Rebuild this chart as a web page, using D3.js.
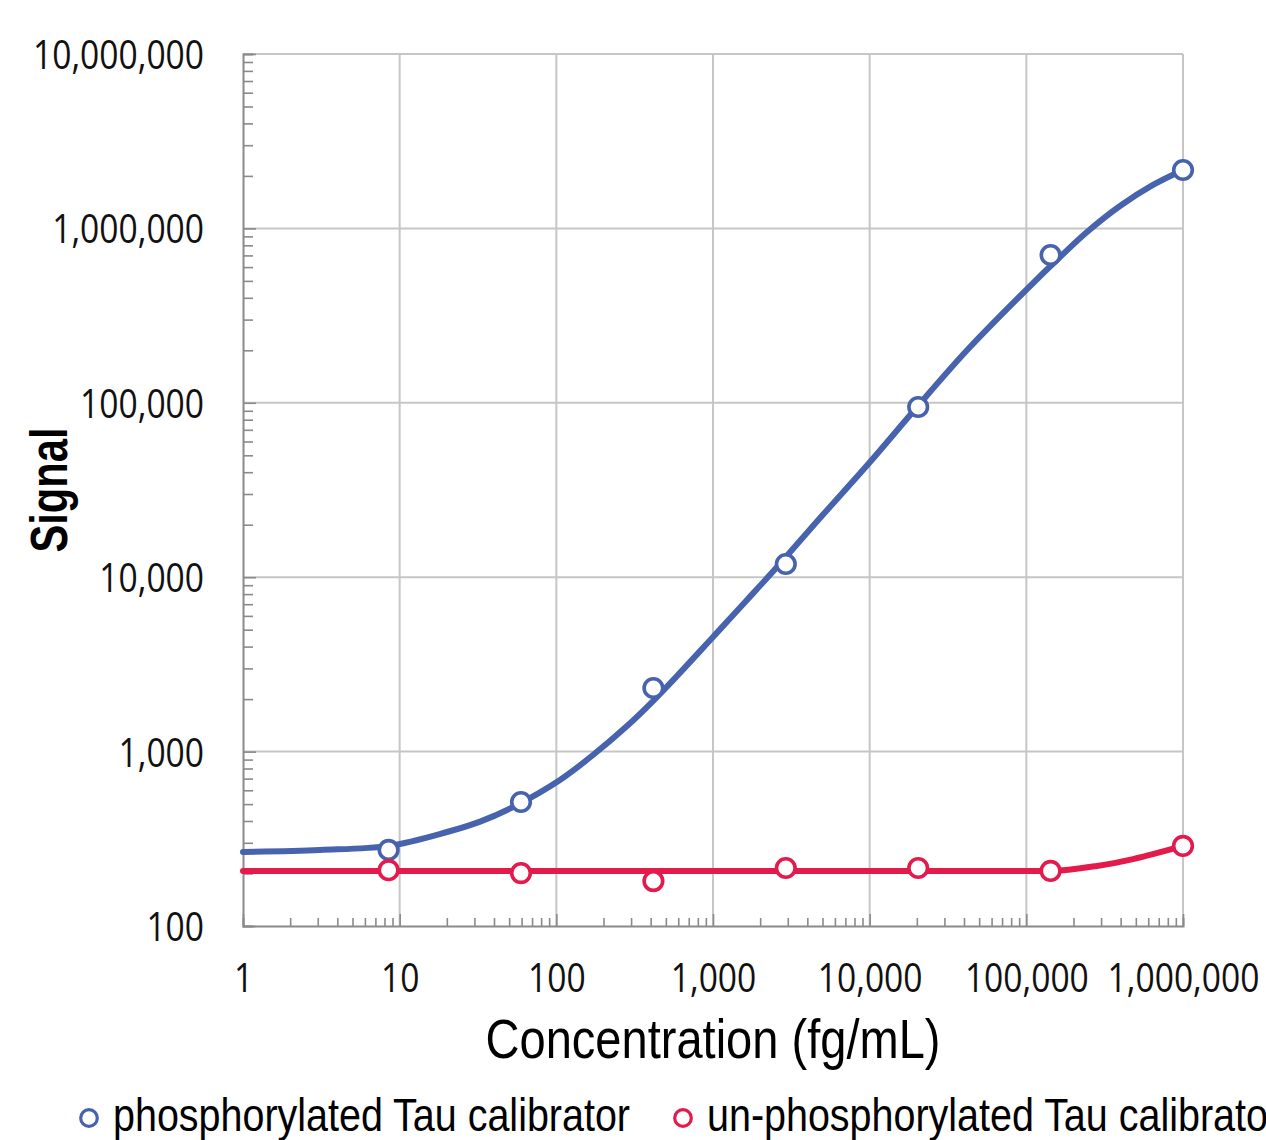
<!DOCTYPE html>
<html>
<head>
<meta charset="utf-8">
<script src="https://cdn.jsdelivr.net/npm/d3@7"></script>
<style>
  html, body { margin: 0; padding: 0; background: #fff; overflow: hidden; }
  svg { display: block; }
  .tick-font { font-family: "Open Sans", "Noto Sans", sans-serif; }
  .narrow { font-family: "Liberation Sans", Arial, sans-serif; }
</style>
</head>
<body>
<svg id="chart" width="1266" height="1140"></svg>
<script>
// ---- data ----
const concentrations = [8.5, 59.5, 416.5, 2915, 20408, 142857, 1000000];
const pTauSignal     = [273, 514, 2316, 11900, 94600, 704000, 2162000];
const unpTauSignal   = [209, 201, 181, 215, 215, 207, 288];

// fitted curves
const pTauFitX = [1, 3.1, 8.55, 20.05, 32.6, 52.9, 105.5, 171.4, 282.5, 414, 589, 1000, 1648, 2562, 4820, 10050, 20060, 41800, 101000, 164000, 243900, 396000, 643000, 1000000];
const pTauFitY = [266, 273, 288, 346, 397, 481, 688, 956, 1402, 1950, 2713, 4541, 7403, 11440, 21840, 45770, 94600, 200000, 449200, 685500, 953700, 1344000, 1774000, 2162000];
const unpFitX  = [1, 141600, 282500, 479700, 1000000];
const unpFitY  = [207, 207, 221, 242, 288];

const xTickValues = [1, 10, 100, 1000, 10000, 100000, 1000000];
const yTickValues = [100, 1000, 10000, 100000, 1000000, 10000000];

const seriesNames = ["phosphorylated Tau calibrator", "un-phosphorylated Tau calibrator"];
const seriesColors = ["#4763ad", "#e31a4b"];

// ---- layout ----
const svg = d3.select("#chart");
const plotL = 243, plotR = 1183, plotT = 54, plotB = 926;

const x = d3.scaleLog().domain([1, 1000000]).range([plotL, plotR]);
const y = d3.scaleLog().domain([100, 10000000]).range([plotB, plotT]);

const gridColor = "#c6c6c6";
const axisColor = "#8a8a8a";
const fmt = d3.format(",");

// condense text horizontally so that a reference string reaches a target width
function condense(sel, factor) {
  sel.each(function() {
    const w = this.getComputedTextLength();
    d3.select(this).attr("textLength", w * factor).attr("lengthAdjust", "spacingAndGlyphs");
  });
}

// gridlines
const grid = svg.append("g");
grid.selectAll("line.vx").data(xTickValues.slice(1)).enter().append("line")
  .attr("x1", d => x(d)).attr("x2", d => x(d))
  .attr("y1", plotT).attr("y2", plotB)
  .attr("stroke", gridColor).attr("stroke-width", 2);
grid.selectAll("line.hy").data(yTickValues.slice(1)).enter().append("line")
  .attr("x1", plotL).attr("x2", plotR)
  .attr("y1", d => y(d)).attr("y2", d => y(d))
  .attr("stroke", gridColor).attr("stroke-width", 2);

// x axis (ticks point inward/up)
const xMinor = x.ticks().filter(d => !xTickValues.includes(d));
const xAxisG = svg.append("g").attr("transform", `translate(0,${plotB})`);
xAxisG.call(d3.axisBottom(x).tickValues(xMinor).tickSize(-8).tickFormat(""));
const xMajor = xAxisG.append("g").call(d3.axisBottom(x).tickValues(xTickValues).tickSize(-12).tickFormat(fmt).tickPadding(0));
xMajor.select("path.domain").remove();
xAxisG.selectAll("path.domain").attr("stroke", axisColor).attr("stroke-width", 2);
xAxisG.selectAll(".tick line").attr("stroke", axisColor).attr("stroke-width", 1.6);
xMajor.selectAll(".tick text")
  .attr("class", "tick-font").attr("font-size", 40).attr("fill", "#111")
  .attr("y", 66).attr("dy", 0);

// y axis (ticks point inward/right)
const yMinor = y.ticks().filter(d => !yTickValues.includes(d));
const yAxisG = svg.append("g").attr("transform", `translate(${plotL},0)`);
yAxisG.call(d3.axisLeft(y).tickValues(yMinor).tickSize(-10).tickFormat(""));
const yMajor = yAxisG.append("g").call(d3.axisLeft(y).tickValues(yTickValues).tickSize(-13).tickFormat(fmt));
yMajor.select("path.domain").remove();
yAxisG.selectAll("path.domain").attr("stroke", axisColor).attr("stroke-width", 2);
yAxisG.selectAll(".tick line").attr("stroke", axisColor).attr("stroke-width", 1.6);
yMajor.selectAll(".tick text")
  .attr("class", "tick-font").attr("font-size", 40).attr("fill", "#111")
  .attr("x", -39).attr("dy", "0.36em").attr("text-anchor", "end");

// condense tick labels: "10,000,000" is ~171px wide in the reference
const tickTexts = svg.selectAll(".tick text").filter(function() { return this.textContent !== ""; });
let refW = 0;
tickTexts.each(function() { if (this.textContent === "10,000,000") refW = this.getComputedTextLength(); });
condense(tickTexts, 171 / refW);

// axis titles
const xTitle = svg.append("text").attr("class", "narrow")
  .attr("x", 713).attr("y", 1058)
  .attr("text-anchor", "middle").attr("font-size", 56).attr("fill", "#000")
  .text("Concentration (fg/mL)");
condense(xTitle, 455 / xTitle.node().getComputedTextLength());

const yTitle = svg.append("text").attr("class", "narrow")
  .attr("transform", "translate(67,490) rotate(-90)")
  .attr("text-anchor", "middle").attr("font-size", 51).attr("font-weight", "bold").attr("fill", "#000")
  .text("Signal");
condense(yTitle, 125 / yTitle.node().getComputedTextLength());

// curves
const curves = [d3.curveCatmullRom.alpha(0.5), d3.curveMonotoneX];
const fits = [d3.zip(pTauFitX, pTauFitY), d3.zip(unpFitX, unpFitY)];
fits.forEach((pts, i) => {
  const line = d3.line().x(d => x(d[0])).y(d => y(d[1])).curve(curves[i]);
  svg.append("path").datum(pts).attr("d", line)
    .attr("fill", "none").attr("stroke", seriesColors[i]).attr("stroke-width", 6)
    .attr("stroke-linecap", "round").attr("stroke-linejoin", "round");
});

// markers
[pTauSignal, unpTauSignal].forEach((vals, i) => {
  svg.append("g").selectAll("circle").data(d3.zip(concentrations, vals)).enter().append("circle")
    .attr("cx", d => x(d[0])).attr("cy", d => y(d[1])).attr("r", 9.3)
    .attr("fill", "#fff").attr("stroke", seriesColors[i]).attr("stroke-width", 3.6);
});

// legend
const legendX = [89, 683];
const legend = svg.append("g");
const legendTexts = [];
seriesNames.forEach((name, i) => {
  legend.append("circle").attr("cx", legendX[i]).attr("cy", 1118).attr("r", 8.3)
    .attr("fill", "#fff").attr("stroke", seriesColors[i]).attr("stroke-width", 3.2);
  legendTexts.push(legend.append("text").attr("class", "narrow")
    .attr("x", legendX[i] + 24).attr("y", 1131)
    .attr("font-size", 47).attr("fill", "#000").text(name));
});
const lf = 517 / legendTexts[0].node().getComputedTextLength();
legendTexts.forEach(t => condense(t, lf));
</script>
</body>
</html>
